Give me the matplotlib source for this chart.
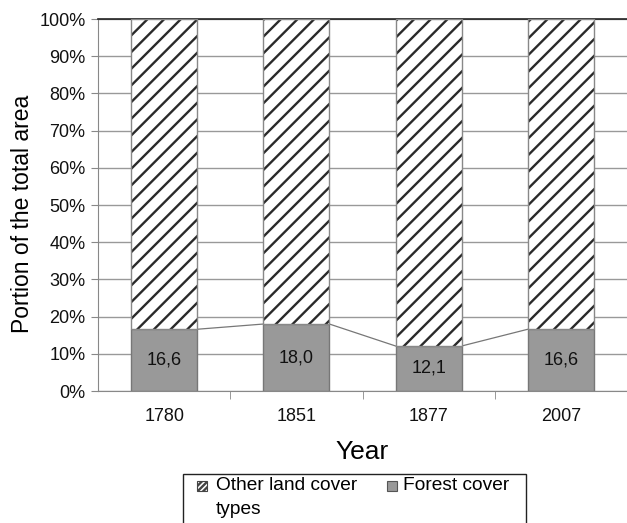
import matplotlib
matplotlib.use("Agg")
import matplotlib.pyplot as plt
from matplotlib.patches import Rectangle
import numpy as np

years = ["1780", "1851", "1877", "2007"]
forest = [16.6, 18.0, 12.1, 16.6]
other = [100 - f for f in forest]
forest_labels = ["16,6", "18,0", "12,1", "16,6"]

plt.rcParams["font.family"] = ["Liberation Sans", "DejaVu Sans"]
plt.rcParams["hatch.linewidth"] = 1.7

W, H = 627, 523
fig = plt.figure(figsize=(W / 100, H / 100), dpi=100)
ax = fig.add_axes([98 / W, 132 / H, 529 / W, 372 / H])

x = np.arange(len(years))
w = 0.5
ax.bar(x, forest, w, color="#999999", edgecolor="#777777", linewidth=1, zorder=3)
# hatch drawn dark, outline drawn grey on top
ax.bar(x, other, w, bottom=forest, color="white", edgecolor="#2a2a2a",
       hatch="//", linewidth=0, zorder=3)
ax.bar(x, other, w, bottom=forest, fill=False, edgecolor="#888888",
       linewidth=1, zorder=3)

# thin connectors between bar tops
for i in range(len(x) - 1):
    ax.plot([x[i] + w / 2, x[i + 1] - w / 2], [forest[i], forest[i + 1]],
            color="#777777", lw=0.9, zorder=2)

for xi, f, lab in zip(x, forest, forest_labels):
    ax.text(xi, f / 2, lab, ha="center", va="center", fontsize=13, color="#111111", zorder=4)

ax.set_xlim(-0.5, len(years) - 0.5)
ax.set_ylim(0, 100)
ax.set_yticks(np.arange(0, 101, 10))
ax.set_yticklabels(["%d%%" % v for v in range(0, 101, 10)], fontsize=13, color="#111111")
ax.yaxis.grid(True, color="#999999", lw=1, zorder=0)
ax.set_axisbelow(True)

ax.set_xticks(x)
ax.set_xticklabels(years, fontsize=13, color="#111111")
ax.tick_params(axis="x", length=0, pad=12)
ax.set_xticks(np.arange(0.5, len(years) - 1, 1), minor=True)
ax.tick_params(axis="x", which="minor", length=6, color="#888888", direction="out")
ax.tick_params(axis="y", length=5, color="#888888", pad=4)

ax.spines["right"].set_visible(False)
ax.spines["top"].set_color("#222222")
ax.spines["top"].set_linewidth(1.2)
ax.spines["left"].set_color("#888888")
ax.spines["bottom"].set_color("#888888")

ax.set_ylabel("Portion of the total area", fontsize=16.5)
ax.yaxis.set_label_coords(-0.121, 0.476)
ax.set_xlabel("Year", fontsize=19, labelpad=11)

# legend box, cut off by the bottom edge as in the source
def fx(px):
    return px / W

def fy(py):
    return 1 - py / H

fig.patches.append(Rectangle((fx(183), fy(540)), fx(526) - fx(183), fy(474) - fy(540),
                             transform=fig.transFigure, fill=False,
                             edgecolor="#222222", lw=1.0))
fig.patches.append(Rectangle((fx(197), fy(491)), fx(10), 10 / H, transform=fig.transFigure,
                             facecolor="white", edgecolor="#444444", hatch="//////", lw=0.8))
fig.patches.append(Rectangle((fx(387), fy(491)), fx(10), 10 / H, transform=fig.transFigure,
                             facecolor="#999999", edgecolor="#555555", lw=0.8))
fig.text(fx(216), fy(486), "Other land cover", fontsize=13.8, va="center", ha="left")
fig.text(fx(216), fy(509), "types", fontsize=13.8, va="center", ha="left")
fig.text(fx(403), fy(486), "Forest cover", fontsize=13.8, va="center", ha="left")

fig.savefig("out.png", dpi=100)
